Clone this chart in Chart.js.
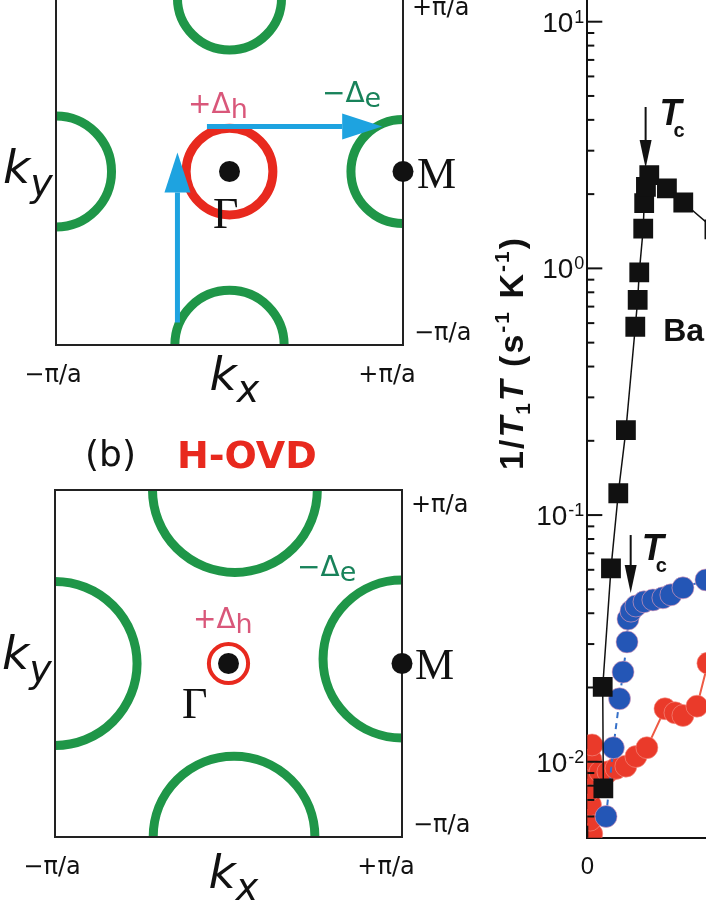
<!DOCTYPE html>
<html>
<head>
<meta charset="utf-8">
<script src="https://cdn.jsdelivr.net/npm/chart.js@4.4.1/dist/chart.umd.min.js"></script>
<style>
  html, body { margin: 0; padding: 0; background: #fff; overflow: hidden; }
  body { width: 706px; height: 913px; position: relative; }
  .wrap { position: absolute; }
  #wrapA { left: 0; top: -10px; width: 480px; height: 420px; }
  #wrapB { left: 0; top: 420px; width: 480px; height: 493px; }
  #wrapC { left: 480px; top: 0; width: 226px; height: 913px; }
</style>
</head>
<body>
<div class="wrap" id="wrapA"><canvas id="zoneA"></canvas></div>
<div class="wrap" id="wrapB"><canvas id="zoneB"></canvas></div>
<div class="wrap" id="wrapC"><canvas id="rateChart"></canvas></div>
<script>
// Brillouin zone, k in units of pi/a
const kRange = [-1, 1];
const kLabels = ['\u2212\u03c0/a', '+\u03c0/a'];
const symPoints = [{ x: 0, y: 0 }, { x: 1, y: 0 }];   // Gamma, M

// (a) hole pocket at Gamma, electron pockets at M
const holeA = [{ x: 0, y: 0, r: 0.25 }];
const elecA = [
  { x: 0, y: 1, r: 0.30 },
  { x: 0, y: -1, r: 0.315 },
  { x: -1, y: 0, r: 0.32 },
  { x: 1, y: 0, r: 0.30 }
];
const arrowsA = [
  { x0: -0.30, y0: -0.87, x1: -0.30, y1: 0.11 },
  { x0: -0.13, y0: 0.26, x1: 0.88, y1: 0.26 }
];

// (b) H-OVD: small hole pocket, large electron pockets
const holeB = [{ x: 0, y: 0, r: 0.113 }];
const elecB = [
  { x: 0.037, y: 1, r: 0.475 },
  { x: 0.032, y: -1, r: 0.466 },
  { x: -1, y: 0, r: 0.473 },
  { x: 1, y: 0.026, r: 0.455 }
];

// 1/T1T (s^-1 K^-1) vs T (K)
const baT    = [10.1, 9.7, 14.9, 19.5, 24.3, 30.2, 31.7, 32.7, 35.2, 35.8, 36.9, 39.0, 50.1, 60.4, 80.0];
const baRate = [0.0078, 0.0201, 0.0608, 0.1226, 0.221, 0.58, 0.745, 0.964, 1.45, 1.84, 2.14, 2.39, 2.11, 1.85, 1.44];

const blueT    = [11.8, 16.4, 20.3, 22.5, 25.0, 25.6, 27.5, 30.6, 35.7, 41.3, 47.6, 52.6, 60.2, 74.7];
const blueRate = [0.0060, 0.0114, 0.0180, 0.0231, 0.0306, 0.0379, 0.0408, 0.0428, 0.0445, 0.0453, 0.0462, 0.0475, 0.0507, 0.0546];

const redT    = [2.8, 1.8, 2.0, 1.8, 2.0, 2.3, 3.0, 8.0, 13.0, 18.1, 24.3, 30.6, 37.5, 48.9, 55.2, 60.2, 69.0, 75.9];
const redRate = [0.0051, 0.0058, 0.0067, 0.0077, 0.0089, 0.0102, 0.0117, 0.0091, 0.0091, 0.0094, 0.0096, 0.0105, 0.0114, 0.0164, 0.0158, 0.0154, 0.0168, 0.0251];

const decadeLabels = [-2, -1, 0, 1];

const tcMarks = [
  { T: 36.7, top: 4.51, tip: 2.55 },
  { T: 27.3, top: 0.083, tip: 0.0483 }
];

const GREEN = '#1f9648';
const RED = '#e8291e';
const SKY = '#1ea3e0';

function pairs(xs, ys) {
  return xs.map((v, i) => ({ x: v, y: ys[i] }));
}

function rich(ctx, parts, x, y) {
  let cx = x;
  parts.forEach(p => {
    ctx.font = p[1];
    ctx.fillText(p[0], cx, y + (p[2] || 0));
    cx += ctx.measureText(p[0]).width;
  });
  return cx;
}

function richWidth(ctx, parts) {
  let w = 0;
  parts.forEach(p => { ctx.font = p[1]; w += ctx.measureText(p[0]).width; });
  return w;
}

const ringRadius = ctx => {
  const s = ctx.chart.scales.x;
  if (!ctx.raw || ctx.raw.r === undefined) return 0;
  return Math.abs(s.getPixelForValue(ctx.raw.r) - s.getPixelForValue(0));
};

const SANS = '"DejaVu Sans"';
const SERIF = '"Liberation Serif"';

// draws frame, arrows and labels of a Brillouin zone panel
const zonePlugin = {
  id: 'zone',
  afterDatasetDraw(chart, args, opts) {
    if (args.index !== 2) return;
    const a = chart.chartArea;
    const ctx = chart.ctx;
    ctx.save();
    ctx.strokeStyle = '#222';
    ctx.lineWidth = 2;
    ctx.strokeRect(a.left, a.top, a.right - a.left, a.bottom - a.top);
    ctx.restore();
  },
  afterDatasetsDraw(chart, args, opts) {
    const { ctx, chartArea: a, scales: { x, y } } = chart;
    ctx.save();
    // arrows
    (opts.arrows || []).forEach(ar => {
      const x0 = x.getPixelForValue(ar.x0), y0 = y.getPixelForValue(ar.y0);
      const x1 = x.getPixelForValue(ar.x1), y1 = y.getPixelForValue(ar.y1);
      const ang = Math.atan2(y1 - y0, x1 - x0);
      const len = 40, half = 13;
      const bx = x1 - len * Math.cos(ang), by = y1 - len * Math.sin(ang);
      ctx.strokeStyle = SKY;
      ctx.fillStyle = SKY;
      ctx.lineWidth = 5;
      ctx.beginPath();
      ctx.moveTo(x0, y0);
      ctx.lineTo(bx, by);
      ctx.stroke();
      ctx.beginPath();
      ctx.moveTo(x1, y1);
      ctx.lineTo(bx + half * Math.sin(ang), by - half * Math.cos(ang));
      ctx.lineTo(bx - half * Math.sin(ang), by + half * Math.cos(ang));
      ctx.closePath();
      ctx.fill();
    });

    ctx.textBaseline = 'alphabetic';
    ctx.textAlign = 'left';
    const midX = (a.left + a.right) / 2, midY = (a.top + a.bottom) / 2;

    // axis names
    ctx.fillStyle = '#111';
    rich(ctx, [['k', 'italic 47px ' + SANS], ['y', 'italic 38px ' + SANS, 13]], a.left - 53, midY + opts.kyDy);
    rich(ctx, [['k', 'italic 47px ' + SANS], ['x', 'italic 38px ' + SANS, 12]], midX - 20, a.bottom + opts.kxDy);

    // zone boundary values
    ctx.font = '24px ' + SANS;
    ctx.textAlign = 'center';
    ctx.fillText(kLabels[0], a.left - 3, a.bottom + 37);
    ctx.fillText(kLabels[1], a.right - 16, a.bottom + 37);
    ctx.textAlign = 'left';
    ctx.fillText(kLabels[1], a.right + 9, a.top + opts.topLabelDy);
    ctx.fillText(kLabels[0], a.right + 11, a.bottom - 5);

    // symmetry points and gaps
    const at = (p) => [x.getPixelForValue(p[0]), y.getPixelForValue(p[1])];
    ctx.fillStyle = '#111';
    ctx.font = '44px ' + SERIF;
    let p = at(opts.gammaAt);
    ctx.fillText('\u0393', p[0], p[1]);
    p = at(opts.mAt);
    ctx.fillText('M', p[0], p[1]);
    ctx.fillStyle = '#d9577a';
    p = at(opts.holeGapAt);
    rich(ctx, [['+\u0394', '28px ' + SANS], ['h', '27px ' + SANS, 5]], p[0], p[1]);
    ctx.fillStyle = '#18825a';
    p = at(opts.elecGapAt);
    rich(ctx, [['\u2212\u0394', '28px ' + SANS], ['e', '27px ' + SANS, 5]], p[0], p[1]);

    if (opts.title) {
      ctx.fillStyle = '#111';
      ctx.font = '36px ' + SANS;
      ctx.fillText('(b)', a.left + 30, a.top - 24);
      ctx.fillStyle = RED;
      ctx.font = 'bold 38px ' + SANS;
      ctx.fillText(opts.title, a.left + 122, a.top - 22);
    }
    ctx.restore();
  }
};

function zoneChart(id, hole, elec, holeWidth, pad, opts) {
  return new Chart(document.getElementById(id), {
    type: 'scatter',
    data: {
      datasets: [
        { data: symPoints, pointRadius: 10.5, pointBackgroundColor: '#111', pointBorderWidth: 0, clip: false },
        { data: hole, pointRadius: ringRadius, pointBackgroundColor: 'rgba(0,0,0,0)', pointBorderColor: RED, pointBorderWidth: holeWidth, clip: 0 },
        { data: elec, pointRadius: ringRadius, pointBackgroundColor: 'rgba(0,0,0,0)', pointBorderColor: GREEN, pointBorderWidth: 9, clip: 0 }
      ]
    },
    options: {
      responsive: true,
      maintainAspectRatio: false,
      animation: false,
      events: [],
      layout: { padding: pad, autoPadding: false },
      scales: {
        x: { type: 'linear', min: kRange[0], max: kRange[1], display: false },
        y: { type: 'linear', min: kRange[0], max: kRange[1], display: false }
      },
      plugins: { legend: { display: false }, tooltip: { enabled: false }, zone: opts }
    },
    plugins: [zonePlugin]
  });
}

zoneChart('zoneA', holeA, elecA, 9, { left: 56, right: 77, top: 8, bottom: 65 }, {
  arrows: arrowsA, kyDy: 11, kxDy: 45, topLabelDy: 17,
  gammaAt: [-0.095, -0.326], mAt: [1.081, -0.095],
  holeGapAt: [-0.239, 0.337], elecGapAt: [0.533, 0.40]
});

zoneChart('zoneB', holeB, elecB, 4, { left: 55, right: 78, top: 70, bottom: 76 }, {
  arrows: [], kyDy: 5, kxDy: 51, topLabelDy: 22, title: 'H-OVD',
  gammaAt: [-0.268, -0.314], mAt: [1.075, -0.089],
  holeGapAt: [-0.205, 0.205], elecGapAt: [0.395, 0.504]
});

// right panel: decade labels, inward ticks, annotations, axis title
const ratePlugin = {
  id: 'rateDeco',
  afterDraw(chart) {
    const { ctx, chartArea: a, scales: { x, y } } = chart;
    ctx.save();
    ctx.strokeStyle = '#111';
    ctx.lineWidth = 2;
    y.ticks.forEach(t => {
      const e = Math.floor(Math.log10(t.value) + 1e-9);
      const s = t.value / Math.pow(10, e);
      if (Math.abs(s - Math.round(s)) > 1e-6) return;
      const len = Math.round(s) === 1 ? 15 : 7;
      const py = y.getPixelForValue(t.value);
      ctx.beginPath();
      ctx.moveTo(a.left, py);
      ctx.lineTo(a.left + len, py);
      ctx.stroke();
    });
    x.ticks.forEach(t => {
      if (t.value % 50 !== 0) return;
      const px = x.getPixelForValue(t.value);
      const len = t.value % 100 === 0 ? 12 : 7;
      ctx.beginPath();
      ctx.moveTo(px, a.bottom);
      ctx.lineTo(px, a.bottom - len);
      ctx.stroke();
    });

    // decade labels 10^n
    ctx.fillStyle = '#111';
    ctx.textAlign = 'right';
    ctx.textBaseline = 'alphabetic';
    decadeLabels.forEach(n => {
      const py = y.getPixelForValue(Math.pow(10, n));
      const right = a.left - 3;
      ctx.font = '18px "Liberation Sans"';
      const ex = String(n);
      ctx.fillText(ex, right, py + 1);
      const ew = ctx.measureText(ex).width;
      ctx.font = '28px "Liberation Sans"';
      ctx.fillText('10', right - ew - 1, py + 10);
    });
    ctx.textAlign = 'left';

    // Tc arrows
    tcMarks.forEach((m, i) => {
      const px = x.getPixelForValue(m.T);
      const y0 = y.getPixelForValue(m.top), y1 = y.getPixelForValue(m.tip);
      ctx.lineWidth = 2;
      ctx.beginPath();
      ctx.moveTo(px, y0);
      ctx.lineTo(px, y1 - 20);
      ctx.stroke();
      ctx.beginPath();
      ctx.moveTo(px, y1);
      ctx.lineTo(px - 6, y1 - 28);
      ctx.lineTo(px + 6, y1 - 28);
      ctx.closePath();
      ctx.fill();
      const tx = px + (i === 0 ? 14 : 11), ty = y0 + (i === 0 ? 18 : 25);
      ctx.font = 'italic bold 36px "Liberation Sans"';
      ctx.fillText('T', tx, ty);
      ctx.font = 'bold 20px "Liberation Sans"';
      ctx.fillText('c', tx + 14, ty + 12);
    });

    ctx.font = 'bold 32px "Liberation Sans"';
    ctx.fillText('Ba', x.getPixelForValue(47.8), y.getPixelForValue(0.51));

    // y axis title, rotated
    const B = 'bold 34px "Liberation Sans"';
    const BI = 'italic bold 34px "Liberation Sans"';
    const S = 'bold 21px "Liberation Sans"';
    const parts = [['1/', B], ['T', BI], ['1', S, 7], ['T', BI], [' (s', B], ['-1', S, -14], [' K', B], ['-1', S, -14], [')', B]];
    ctx.letterSpacing = '2px';
    const w = richWidth(ctx, parts);
    ctx.translate(a.left - 64, 353);
    ctx.rotate(-Math.PI / 2);
    rich(ctx, parts, -w / 2, 0);
    ctx.restore();
  }
};

new Chart(document.getElementById('rateChart'), {
  type: 'scatter',
  data: {
    datasets: [
      { data: pairs(baT, baRate), showLine: true, borderColor: '#111', borderWidth: 1.5,
        pointStyle: 'rect', pointRadius: 14, pointBackgroundColor: '#111', pointBorderWidth: 0 },
      { data: pairs(blueT, blueRate), showLine: true, borderColor: '#3570c8', borderWidth: 2, borderDash: [6, 5],
        pointRadius: 11, pointBackgroundColor: '#2456b6', pointBorderColor: 'rgba(240,160,185,0.6)', pointBorderWidth: 1 },
      { data: pairs(redT, redRate), showLine: true, borderColor: '#ee5a44', borderWidth: 2,
        pointRadius: 11, pointBackgroundColor: '#ea3a2a', pointBorderColor: 'rgba(245,150,140,0.6)', pointBorderWidth: 1 }
    ]
  },
  options: {
    responsive: true,
    maintainAspectRatio: false,
    animation: false,
    events: [],
    layout: { padding: 0, autoPadding: false },
    scales: {
      x: {
        type: 'linear', min: 0, max: 74.7,
        afterFit: s => { s.height = 75.3; },
        grid: { display: false },
        border: { display: true, color: '#111', width: 2 },
        ticks: {
          stepSize: 50, autoSkip: false, maxRotation: 0, padding: 7, color: '#111',
          font: { family: '"Liberation Sans"', size: 24 },
          callback: v => (v % 100 === 0 ? String(v) : null)
        }
      },
      y: {
        type: 'logarithmic', min: 0.004922, max: 12.245,
        afterFit: s => { s.width = 107.3; },
        grid: { display: false },
        border: { display: true, color: '#111', width: 2 },
        ticks: { display: false, autoSkip: false }
      }
    },
    plugins: { legend: { display: false }, tooltip: { enabled: false } }
  },
  plugins: [ratePlugin]
});
</script>
</body>
</html>
